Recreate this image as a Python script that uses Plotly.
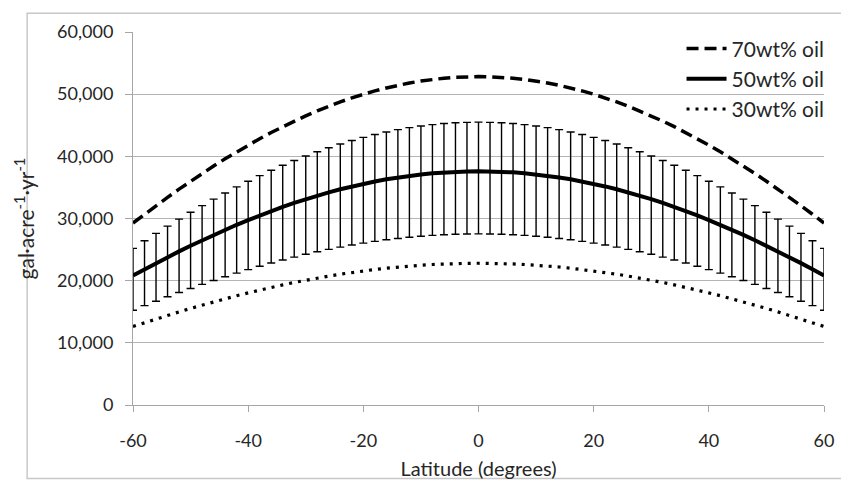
import plotly.graph_objects as go

latitude = list(range(-60, 62, 2))

oil_70 = [29270, 30680, 32060, 33400, 34720, 36000, 37240, 38440, 39600, 40730,
          41810, 42840, 43830, 44770, 45670, 46520, 47310, 48060, 48760, 49400,
          49990, 50520, 51000, 51430, 51800, 52110, 52370, 52570, 52720, 52800,
          52830,
          52800, 52720, 52570, 52370, 52110, 51800, 51430, 51000, 50520, 49990,
          49400, 48760, 48060, 47310, 46520, 45670, 44770, 43830, 42840, 41810,
          40730, 39600, 38440, 37240, 36000, 34720, 33400, 32060, 30680, 29270]

oil_50 = [20830, 21830, 22820, 23780, 24710, 25620, 26500, 27360, 28190, 28990,
          29750, 30490, 31200, 31870, 32500, 33110, 33670, 34210, 34700, 35160,
          35580, 35960, 36300, 36600, 36870, 37090, 37270, 37420, 37520, 37580,
          37600,
          37580, 37520, 37420, 37270, 37090, 36870, 36600, 36300, 35960, 35580,
          35160, 34700, 34210, 33670, 33110, 32500, 31870, 31200, 30490, 29750,
          28990, 28190, 27360, 26500, 25620, 24710, 23780, 22820, 21830, 20830]

oil_30 = [12630, 13240, 13840, 14420, 14980, 15540, 16070, 16590, 17090, 17580,
          18040, 18490, 18920, 19320, 19710, 20080, 20420, 20740, 21040, 21320,
          21570, 21800, 22010, 22200, 22360, 22490, 22600, 22690, 22750, 22790,
          22800,
          22790, 22750, 22690, 22600, 22490, 22360, 22200, 22010, 21800, 21570,
          21320, 21040, 20740, 20420, 20080, 19710, 19320, 18920, 18490, 18040,
          17580, 17090, 16590, 16070, 15540, 14980, 14420, 13840, 13240, 12630]

err_plus_50 = [4370, 4580, 4790, 4990, 5190, 5380, 5570, 5750, 5920, 6090,
               6250, 6400, 6550, 6690, 6830, 6950, 7070, 7180, 7290, 7380,
               7470, 7550, 7620, 7690, 7740, 7790, 7830, 7860, 7880, 7890,
               7900,
               7890, 7880, 7860, 7830, 7790, 7740, 7690, 7620, 7550, 7470,
               7380, 7290, 7180, 7070, 6950, 6830, 6690, 6550, 6400, 6250,
               6090, 5920, 5750, 5570, 5380, 5190, 4990, 4790, 4580, 4370]

err_minus_50 = [5580, 5850, 6120, 6370, 6620, 6870, 7100, 7330, 7560, 7770,
                7970, 8170, 8360, 8540, 8710, 8870, 9020, 9170, 9300, 9420,
                9540, 9640, 9730, 9810, 9880, 9940, 9990, 10030, 10060, 10070,
                10080,
                10070, 10060, 10030, 9990, 9940, 9880, 9810, 9730, 9640, 9540,
                9420, 9300, 9170, 9020, 8870, 8710, 8540, 8360, 8170, 7970,
                7770, 7560, 7330, 7100, 6870, 6620, 6370, 6120, 5850, 5580]

series_names = ["70wt% oil", "50wt% oil", "30wt% oil"]
x_ticks = [-60, -40, -20, 0, 20, 40, 60]
x_tick_labels = ["-60", "-40", "-20", "0", "20", "40", "60"]
y_ticks = [0, 10000, 20000, 30000, 40000, 50000, 60000]

FONT = "Lato, 'Open Sans', sans-serif"
TXT = "#262626"
GRID = "#b4b4b4"

fig = go.Figure()

fig.add_trace(go.Scatter(
    x=latitude, y=oil_70, name=series_names[0], mode="lines",
    line=dict(color="black", width=3.5, dash="12px,6px"),
))
fig.add_trace(go.Scatter(
    x=latitude, y=oil_50, name=series_names[1], mode="lines",
    line=dict(color="black", width=4),
    error_y=dict(type="data", array=err_plus_50, arrayminus=err_minus_50,
                 symmetric=False, color="black", thickness=1.4, width=4),
))
fig.add_trace(go.Scatter(
    x=latitude, y=oil_30, name=series_names[2], mode="lines",
    line=dict(color="black", width=3.2, dash="3px,6px"),
))

# page body adds an 8px offset; figure is sized to fit the window
fig.update_layout(
    width=841, height=481,
    margin=dict(l=125, r=25, t=16, b=80),
    paper_bgcolor="white", plot_bgcolor="white",
    font=dict(family=FONT, size=18, color=TXT),
    showlegend=True,
    legend=dict(
        x=1.008, xanchor="right", y=1.01, yanchor="top",
        bgcolor="rgba(0,0,0,0)", font=dict(size=21, color=TXT),
        tracegroupgap=0, itemwidth=40,
    ),
    xaxis=dict(
        range=[-60, 60], tickvals=x_ticks, ticktext=x_tick_labels,
        showgrid=False, zeroline=False,
        showline=True, linecolor="#a6a6a6", linewidth=1,
        ticks="outside", ticklen=6, tickcolor="#a6a6a6",
        ticklabelstandoff=13,
        title=dict(text="Latitude (degrees)", font=dict(size=20, color=TXT), standoff=12),
    ),
    yaxis=dict(
        range=[0, 60000], tickvals=y_ticks, tickformat=",d",
        showgrid=True, gridcolor=GRID, gridwidth=1, zeroline=False,
        showline=True, linecolor="#a6a6a6", linewidth=1,
        ticks="outside", ticklen=7, tickcolor="#a6a6a6",
        ticklabelstandoff=8,
        title=dict(text="gal·acre<sup>-1</sup>·yr<sup>-1</sup>", font=dict(size=21, color=TXT), standoff=16),
    ),
    shapes=[dict(type="rect", xref="paper", yref="paper",
                 x0=-0.1532, x1=1.05, y0=-0.197, y1=1.05,
                 line=dict(color="#c8c8c8", width=1.5), layer="below")],
)

fig.write_html("out.html")
